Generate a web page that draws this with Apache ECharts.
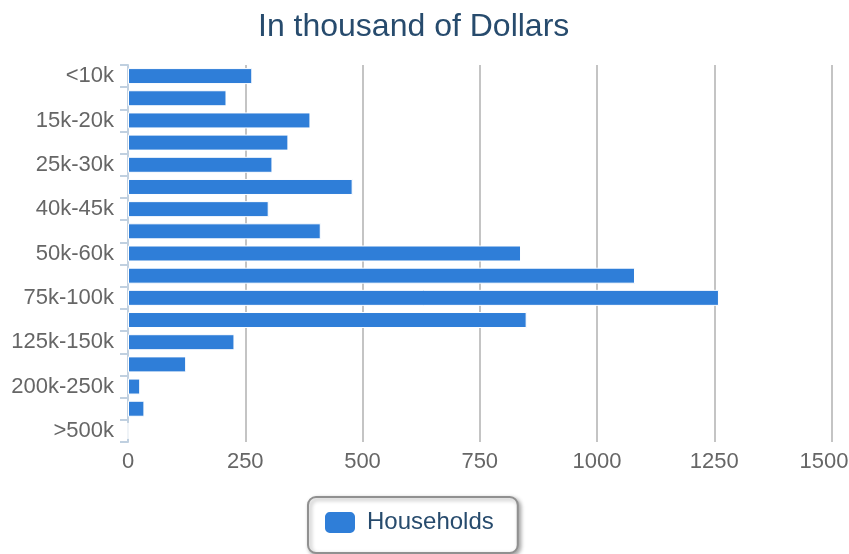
<!DOCTYPE html>
<html>
<head>
<meta charset="utf-8">
<script src="https://cdn.jsdelivr.net/npm/echarts@6/dist/echarts.min.js"></script>
<style>
html,body{margin:0;padding:0;background:#fff;overflow:hidden;}
#chart{width:849px;height:554px;}
</style>
</head>
<body>
<div id="chart"></div>
<script>
var titleText = 'In thousand of Dollars';
var categories = ['<10k','10k-15k','15k-20k','20k-25k','25k-30k','30k-40k','40k-45k','45k-50k','50k-60k','60k-75k','75k-100k','100k-125k','125k-150k','150k-200k','200k-250k','250k-500k','>500k'];
var households = [265, 210, 389, 342, 308, 479, 300, 411, 838, 1081, 1260, 850, 227, 124, 26, 35, 0];
var seriesName = 'Households';
var xTicks = [0, 250, 500, 750, 1000, 1250, 1500];

var font = '"Liberation Sans", Arial, sans-serif';
var xMax = xTicks[xTicks.length-1];
var chart = echarts.init(document.getElementById('chart'), null, {renderer:'canvas'});
var gridColors = xTicks.map(function(v){ return v === 0 ? 'rgba(0,0,0,0)' : '#c4c4c4'; });
chart.setOption({
  backgroundColor: '#ffffff',
  animation: false,
  title: {
    text: titleText,
    left: 258,
    top: 11,
    padding: 0,
    textStyle: {color:'#274b6d', fontSize:32, fontWeight:'normal', fontFamily:font}
  },
  legend: {
    data: [seriesName],
    left: 308,
    top: 497,
    padding: [13, 24, 18, 15],
    itemWidth: 32,
    itemHeight: 23,
    itemGap: 10,
    icon: 'roundRect',
    backgroundColor: '#ffffff',
    borderColor: '#909090',
    borderWidth: 2,
    borderRadius: 8,
    shadowColor: 'rgba(0,0,0,0.35)',
    shadowBlur: 4,
    shadowOffsetX: 2,
    shadowOffsetY: 2,
    textStyle: {color:'#274b6d', fontSize:24, fontFamily:font, padding:[2,0,0,6]}
  },
  grid: {left:128, right:17.5, top:65, height:377, containLabel:false, outerBoundsMode:'none'},
  xAxis: {
    type: 'value',
    min: xTicks[0],
    max: xMax,
    interval: 250,
    axisLine: {show:false},
    axisTick: {show:false},
    axisLabel: {color:'#666666', fontSize:22, fontFamily:font, margin:9,
      formatter: function(v){ return v === xMax ? '{last|' + v + '}' : String(v); },
      rich: {last: {color:'#666666', fontSize:22, fontFamily:font, padding:[0,15,0,0]}}},
    splitLine: {show:true, lineStyle:{color:gridColors, width:2}}
  },
  yAxis: {
    type: 'category',
    data: categories,
    inverse: true,
    axisLine: {show:true, lineStyle:{color:'#c0d0e0', width:2}},
    axisTick: {show:true, interval:0, length:8, lineStyle:{color:'#c0d0e0', width:2}},
    axisLabel: {interval:1, color:'#666666', fontSize:22, fontFamily:font, margin:14, padding:[3,0,0,0]},
    splitLine: {show:false}
  },
  series: [{
    name: seriesName,
    type: 'bar',
    data: households,
    barWidth: 16,
    itemStyle: {color:'#2f7ed8', borderColor:'#ffffff', borderWidth:1}
  }]
});
</script>
</body>
</html>
